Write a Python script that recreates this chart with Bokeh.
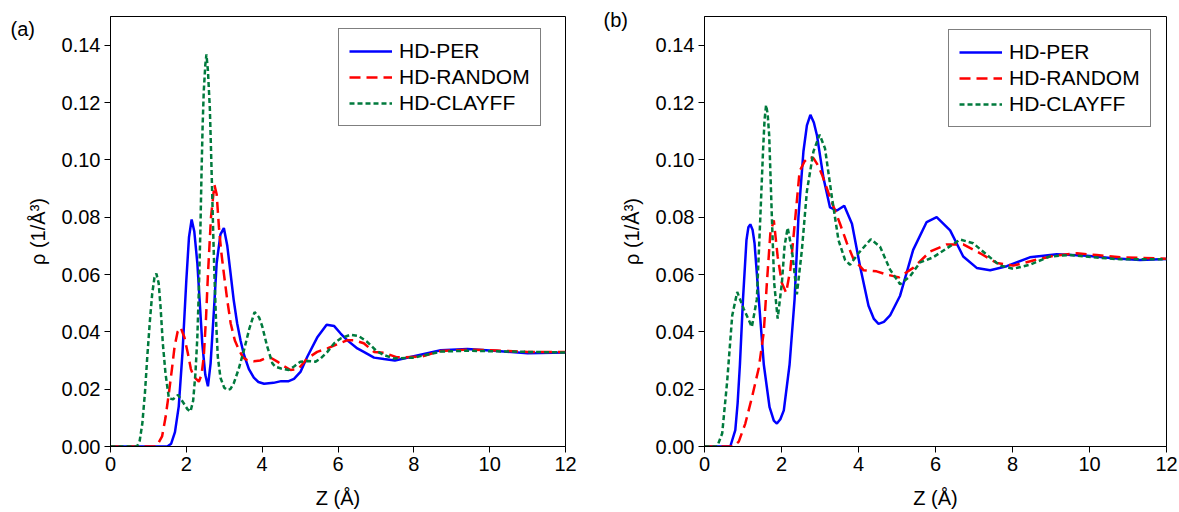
from bokeh.plotting import figure
from bokeh.layouts import row
from bokeh.models import FixedTicker, PrintfTickFormatter, Legend, LegendItem, Range1d
from bokeh.embed import file_html
from bokeh.resources import INLINE

# ---------------- data: panel (a) ----------------
za_per = [0, 1.5, 1.6, 1.7, 1.8, 1.9, 2.0, 2.07, 2.14, 2.21, 2.29, 2.36, 2.42, 2.5, 2.57, 2.64, 2.73, 2.8, 2.9,
          2.99, 3.08, 3.17, 3.25, 3.34, 3.43, 3.52, 3.65, 3.78, 3.9, 4.05, 4.3, 4.5, 4.7, 4.84, 5.01, 5.19, 5.45,
          5.7, 5.9, 6.07, 6.24, 6.51, 6.68, 6.95, 7.21, 7.5, 8.0, 8.71, 9.41, 10.2, 11.0, 12.0]
ra_per = [0, 0, 0.001, 0.005, 0.014, 0.033, 0.058, 0.073, 0.0792, 0.075, 0.064, 0.049, 0.036, 0.025, 0.021, 0.029,
          0.048, 0.064, 0.074, 0.0762, 0.070, 0.060, 0.051, 0.043, 0.037, 0.032, 0.027, 0.024, 0.0225, 0.0219,
          0.0222, 0.0228, 0.0228, 0.0236, 0.026, 0.0313, 0.038, 0.0425, 0.042, 0.0394, 0.0371, 0.0342, 0.033,
          0.031, 0.0305, 0.030, 0.0315, 0.0336, 0.034, 0.0333, 0.0325, 0.0328]

za_rnd = [0, 1.21, 1.36, 1.45, 1.54, 1.62, 1.69, 1.77, 1.85, 1.95, 2.04, 2.12, 2.20, 2.33, 2.40, 2.46, 2.52, 2.57,
          2.65, 2.74, 2.80, 2.86, 2.92, 2.99, 3.08, 3.17, 3.28, 3.39, 3.5, 3.61, 3.78, 3.95, 4.13, 4.25, 4.40,
          4.58, 4.75, 4.95, 5.19, 5.45, 5.72, 6.0, 6.25, 6.45, 6.68, 6.95, 7.21, 7.56, 8.18, 8.71, 9.41, 10.2,
          11.0, 12.0]
ra_rnd = [0, 0, 0.0035, 0.010, 0.0186, 0.027, 0.0348, 0.040, 0.0415, 0.038, 0.0325, 0.027, 0.0243, 0.0226, 0.025,
          0.0313, 0.045, 0.060, 0.080, 0.0913, 0.088, 0.0765, 0.068, 0.0603, 0.051, 0.0429, 0.037, 0.0336, 0.031,
          0.0301, 0.0297, 0.030, 0.031, 0.0308, 0.0296, 0.028, 0.0267, 0.027, 0.0307, 0.033, 0.0342, 0.0358,
          0.0371, 0.0370, 0.036, 0.033, 0.0327, 0.0311, 0.0313, 0.0333, 0.0338, 0.0335, 0.033, 0.033]

za_cly = [0, 0.70, 0.77, 0.84, 0.91, 0.97, 1.04, 1.10, 1.16, 1.21, 1.27, 1.32, 1.38, 1.45, 1.54, 1.65, 1.78, 1.93,
          2.03, 2.11, 2.18, 2.24, 2.29, 2.33, 2.37, 2.40, 2.43, 2.46, 2.50, 2.53, 2.57, 2.62, 2.65, 2.68, 2.71,
          2.74, 2.78, 2.83, 2.90, 3.0, 3.08, 3.16, 3.25, 3.38, 3.52, 3.66, 3.80, 3.92, 4.0, 4.13, 4.27, 4.35,
          4.50, 4.70, 4.85, 5.01, 5.2, 5.41, 5.54, 5.72, 5.90, 6.07, 6.33, 6.55, 6.77, 7.0, 7.21, 7.47, 8.0,
          8.71, 9.41, 10.2, 11.0, 12.0]
ra_cly = [0, 0, 0.002, 0.0081, 0.019, 0.0313, 0.044, 0.0533, 0.059, 0.0603, 0.057, 0.0487, 0.036, 0.0255, 0.0168,
          0.0165, 0.018, 0.0151, 0.013, 0.0122, 0.016, 0.0255, 0.038, 0.0545, 0.075, 0.095, 0.112, 0.124, 0.133,
          0.1368, 0.131, 0.118, 0.104, 0.0893, 0.074, 0.0603, 0.045, 0.0313, 0.024, 0.0205, 0.0197, 0.020, 0.022,
          0.027, 0.0336, 0.041, 0.0469, 0.045, 0.042, 0.035, 0.029, 0.0278, 0.0272, 0.0267, 0.028, 0.0296,
          0.0298, 0.0296, 0.0307, 0.033, 0.036, 0.0377, 0.0390, 0.0385, 0.0365, 0.0335, 0.0319, 0.0307, 0.031,
          0.0331, 0.0334, 0.0332, 0.033, 0.0328]

# ---------------- data: panel (b) ----------------
zb_per = [0, 0.67, 0.80, 0.86, 0.92, 1.00, 1.09, 1.14, 1.19, 1.25, 1.30, 1.41, 1.54, 1.69, 1.80, 1.88, 1.97, 2.06,
          2.21, 2.34, 2.44, 2.57, 2.66, 2.75, 2.84, 2.92, 3.09, 3.26, 3.44, 3.63, 3.83, 4.04, 4.26, 4.40, 4.52,
          4.66, 4.82, 5.08, 5.42, 5.77, 6.03, 6.38, 6.72, 7.07, 7.42, 7.85, 8.45, 9.15, 9.93, 10.62, 11.31, 12.0]
rb_per = [0, 0, 0.0057, 0.015, 0.0286, 0.0514, 0.072, 0.0765, 0.0775, 0.0755, 0.0709, 0.0514, 0.0286, 0.0137,
          0.009, 0.008, 0.0095, 0.0126, 0.0286, 0.0514, 0.080, 0.103, 0.112, 0.1157, 0.113, 0.1086, 0.0937,
          0.0834, 0.0823, 0.084, 0.0777, 0.0629, 0.0491, 0.0445, 0.0428, 0.0435, 0.0457, 0.0526, 0.0686, 0.0783,
          0.080, 0.0754, 0.0663, 0.0623, 0.0615, 0.0629, 0.066, 0.0671, 0.0665, 0.0657, 0.0651, 0.0654]

zb_rnd = [0, 0.76, 0.89, 1.06, 1.23, 1.41, 1.54, 1.62, 1.71, 1.80, 1.90, 2.01, 2.12, 2.23, 2.36, 2.47, 2.60, 2.72,
          2.83, 2.95, 3.05, 3.26, 3.52, 3.70, 3.87, 4.13, 4.47, 4.73, 5.05, 5.42, 5.86, 6.29, 6.72, 7.16, 7.59,
          8.02, 8.54, 9.06, 9.67, 10.19, 10.8, 12.0]
rb_rnd = [0, 0, 0.0017, 0.008, 0.017, 0.0274, 0.040, 0.057, 0.0743, 0.0789, 0.0663, 0.057, 0.0537, 0.0617, 0.080,
          0.096, 0.0995, 0.101, 0.1006, 0.098, 0.0949, 0.0869, 0.0777, 0.0709, 0.0654, 0.0615, 0.0611, 0.060,
          0.059, 0.0623, 0.068, 0.0705, 0.0705, 0.0674, 0.064, 0.0631, 0.0649, 0.0665, 0.0674, 0.0668, 0.066,
          0.0655]

zb_cly = [0, 0.33, 0.46, 0.59, 0.72, 0.85, 1.02, 1.23, 1.36, 1.45, 1.52, 1.56, 1.60, 1.64, 1.68, 1.75, 1.81, 1.90,
          2.01, 2.08, 2.16, 2.27, 2.40, 2.53, 2.66, 2.83, 2.99, 3.13, 3.31, 3.48, 3.65, 3.78, 4.0, 4.32, 4.56,
          4.82, 5.08, 5.34, 5.60, 5.94, 6.29, 6.64, 6.98, 7.33, 7.68, 8.02, 8.45, 8.97, 9.49, 10.1, 10.8, 12.0]
rb_cly = [0, 0, 0.0046, 0.0229, 0.0457, 0.0539, 0.048, 0.0417, 0.0514, 0.080, 0.103, 0.114, 0.1191, 0.116,
          0.1086, 0.080, 0.057, 0.0446, 0.057, 0.070, 0.0763, 0.0686, 0.0531, 0.0686, 0.0891, 0.1029, 0.1088,
          0.104, 0.0869, 0.072, 0.0651, 0.0634, 0.0674, 0.0723, 0.0697, 0.0617, 0.0566, 0.0594, 0.0642, 0.066,
          0.0691, 0.0722, 0.0709, 0.0669, 0.0631, 0.062, 0.0634, 0.0663, 0.0668, 0.066, 0.0653, 0.0653]

series_names = ["HD-PER", "HD-RANDOM", "HD-CLAYFF"]
x_ticks = [0, 2, 4, 6, 8, 10, 12]
y_ticks = [0.0, 0.02, 0.04, 0.06, 0.08, 0.10, 0.12, 0.14]
panel_labels = ["(a)", "(b)"]

FONT = "Liberation Sans"
COLORS = ["#0000FF", "#FF0000", "#007A3D"]
DASHES = ["solid", "11 6", "5 3"]


def make_panel(data, label, width, borders, title_off, legend_loc):
    bl, br, bt, bb = borders
    p = figure(width=width, height=512, output_backend="svg", toolbar_location=None,
               x_range=Range1d(0, 12), y_range=Range1d(0, 0.15), title=label,
               min_border_left=bl, min_border_right=br, min_border_top=bt, min_border_bottom=bb)
    p.xgrid.visible = False
    p.ygrid.visible = False
    p.outline_line_color = "black"
    p.outline_line_width = 1
    p.background_fill_color = "white"
    p.border_fill_color = "white"

    # panel tag "(a)" / "(b)" drawn as the figure title, shifted left of the frame
    p.title.align = "left"
    p.title.offset = title_off[0]
    p.title.standoff = title_off[1]
    p.title.text_font = FONT
    p.title.text_font_size = "20px"
    p.title.text_font_style = "normal"
    p.title.text_color = "black"

    for ax in (p.xaxis[0], p.yaxis[0]):
        ax.axis_line_color = "black"
        ax.major_tick_line_color = "black"
        ax.minor_tick_line_color = None
        ax.major_tick_in = 0
        ax.major_tick_out = 6
        ax.major_label_text_font = FONT
        ax.major_label_text_font_size = "20px"
        ax.major_label_text_color = "black"
        ax.axis_label_text_font = FONT
        ax.axis_label_text_font_size = "20px"
        ax.axis_label_text_font_style = "normal"
        ax.axis_label_text_color = "black"

    p.xaxis.ticker = FixedTicker(ticks=x_ticks)
    p.yaxis.ticker = FixedTicker(ticks=y_ticks)
    p.yaxis.formatter = PrintfTickFormatter(format="%.2f")
    p.xaxis.axis_label = "Z (Å)"
    p.yaxis.axis_label = "ρ (1/Å³)"
    p.xaxis.major_label_standoff = 4
    p.yaxis.major_label_standoff = 4
    p.xaxis.axis_label_standoff = 13
    p.yaxis.axis_label_standoff = 10

    items = []
    for (zs, rs), name, c, d in zip(data, series_names, COLORS, DASHES):
        r = p.line(zs, rs, line_color=c, line_width=2.5, line_dash=d)
        items.append(LegendItem(label=name, renderers=[r]))

    leg = Legend(items=items, location=legend_loc, margin=0)
    leg.label_text_font = FONT
    leg.label_text_font_size = "21px"
    leg.label_text_color = "black"
    leg.border_line_color = "black"
    leg.border_line_width = 1
    leg.background_fill_alpha = 1.0
    leg.padding = 10
    leg.spacing = 2
    leg.glyph_width = 43
    leg.glyph_height = 22
    leg.label_height = 22
    leg.label_standoff = 7
    p.add_layout(leg)
    return p


p1 = make_panel([(za_per, ra_per), (za_rnd, ra_rnd), (za_cly, ra_cly)], panel_labels[0], 590,
                (110, 25, 16, 65), (-100, -46), (228, 320))
p2 = make_panel([(zb_per, rb_per), (zb_rnd, rb_rnd), (zb_cly, rb_cly)], panel_labels[1], 589,
                (114, 13, 10, 66), (-101, -28), (244, 319))

layout = row(p1, p2)
open("out.html", "w").write(file_html(layout, INLINE))
